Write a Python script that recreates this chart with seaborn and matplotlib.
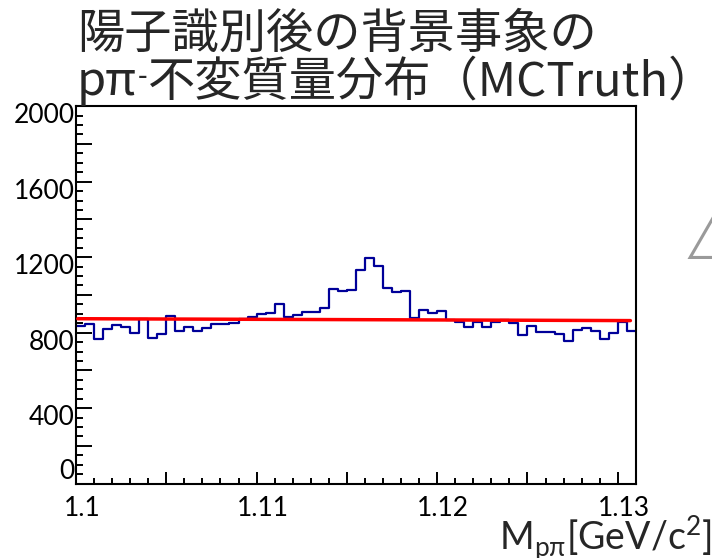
import pandas as pd
import matplotlib
matplotlib.use("Agg")
import matplotlib.pyplot as plt
import matplotlib.transforms as mtransforms
from matplotlib.ticker import MultipleLocator, FuncFormatter
import seaborn as sns

# p pi- invariant mass histogram: 62 bins of 0.5 MeV/c^2 from 1.100 GeV/c^2
mass_low = 1.100
bin_width = 0.0005
counts = [837, 844, 767, 818, 842, 832, 797, 871, 772, 795,
          887, 810, 830, 809, 823, 848, 848, 852, 871, 882,
          899, 902, 952, 882, 895, 907, 912, 929, 1031, 1023,
          1028, 1134, 1196, 1155, 1035, 1017, 1022, 880, 920, 904,
          913, 868, 855, 832, 858, 832, 858, 869, 850, 787,
          834, 806, 802, 794, 755, 813, 827, 811, 765, 796,
          859, 807]

# straight-line (pol1) background fit, evaluated at the ends of its range
fit_mass = [1.1001, 1.1307]
fit_value = [874, 864]

title_line1 = "陽子識別後の背景事象の"
title_particles = "pπ"
title_charge = "-"
title_rest = "不変質量分布（MCTruth）"
x_title = r"M$_{\mathregular{p\pi}}$[GeV/c$^{\mathregular{2}}$]"

sns.set_style("white")
plt.rcParams["font.family"] = ["Lato", "DejaVu Sans"]
plt.rcParams["mathtext.fontset"] = "custom"
plt.rcParams["mathtext.rm"] = "Lato"
plt.rcParams["mathtext.fallback"] = "stixsans"
cjk = ["Noto Sans CJK JP", "DejaVu Sans"]

n_bins = len(counts)
edges = [mass_low + bin_width * i for i in range(n_bins + 1)]
centers = [0.5 * (edges[i] + edges[i + 1]) for i in range(n_bins)]
hist_df = pd.DataFrame({"mass": centers, "entries": counts})
fit_df = pd.DataFrame({"mass": fit_mass, "fit": fit_value})

fig = plt.figure(figsize=(7.12, 5.58), dpi=100)
ax = fig.add_axes([0.1067, 0.1332, 0.7863, 0.6765])

sns.histplot(data=hist_df, x="mass", weights="entries", bins=edges,
             element="step", fill=False, color="#000099", linewidth=1.6,
             ax=ax)
sns.lineplot(data=fit_df, x="mass", y="fit", color="#ff0000",
             linewidth=2.5, ax=ax, zorder=5)

ax.set_xlim(edges[0], edges[-1])
ax.set_ylim(0, 2000)
ax.set_xlabel("")
ax.set_ylabel("")

for side in ["left", "right", "top", "bottom"]:
    ax.spines[side].set_visible(True)
    ax.spines[side].set_color("black")
    ax.spines[side].set_linewidth(1.5)

ax.xaxis.set_major_locator(MultipleLocator(0.005))
ax.xaxis.set_minor_locator(MultipleLocator(0.001))
ax.xaxis.set_major_formatter(FuncFormatter(
    lambda v, p: f"{v:g}" if round(v * 1000) % 10 == 0 else ""))
ax.yaxis.set_major_locator(MultipleLocator(200))
ax.yaxis.set_minor_locator(MultipleLocator(50))
ax.yaxis.set_major_formatter(FuncFormatter(
    lambda v, p: f"{v:.0f}" if round(v) % 400 == 0 else ""))

ax.tick_params(axis="both", which="both", direction="in", color="black",
               width=1.4, bottom=True, left=True, top=False, right=False,
               labelsize=19, labelcolor="black")
ax.tick_params(axis="x", which="major", length=8.3, pad=9)
ax.tick_params(axis="x", which="minor", length=4)
ax.tick_params(axis="y", which="major", length=11.2, pad=1)
ax.tick_params(axis="y", which="minor", length=5.3)

# tick labels sit slightly right of / below their ticks; "0" rests on the axis
fig.canvas.draw()
shift_right = mtransforms.ScaledTranslation(0.06, 0, fig.dpi_scale_trans)
for lbl in ax.get_xticklabels():
    lbl.set_transform(lbl.get_transform() + shift_right)
shift_down = mtransforms.ScaledTranslation(0, -0.07, fig.dpi_scale_trans)
for tick in ax.yaxis.get_major_ticks():
    if abs(tick.get_loc()) < 1e-9:
        tick.label1.set_va("bottom")
    else:
        tick.label1.set_transform(tick.label1.get_transform() + shift_down)

# two-line title; the pi- charge is a small raised dash
title_base1 = 0.914
title_base2 = 0.8297
fig.text(0.108, title_base1, title_line1, fontsize=34, family=cjk,
         ha="left", va="baseline")
t_part = fig.text(0.108, title_base2, title_particles, fontsize=34,
                  family=cjk, ha="left", va="baseline")
t_charge = ax.annotate(title_charge, xy=(1.0, title_base2),
                       xycoords=(t_part, "figure fraction"),
                       xytext=(0.5, 7), textcoords="offset points",
                       fontsize=20, family=cjk, ha="left", va="baseline",
                       annotation_clip=False)
ax.annotate(title_rest, xy=(1.0, title_base2),
            xycoords=(t_charge, "figure fraction"),
            xytext=(0.5, 0), textcoords="offset points",
            fontsize=34, family=cjk, ha="left", va="baseline",
            annotation_clip=False)

fig.text(0.999, 0.013, x_title, fontsize=27, ha="right", va="baseline")
fig.text(0.962, 0.534, "△", fontsize=60, color="#9a9a9a", family=cjk,
         ha="left", va="baseline")

fig.savefig("out.png", dpi=100)
